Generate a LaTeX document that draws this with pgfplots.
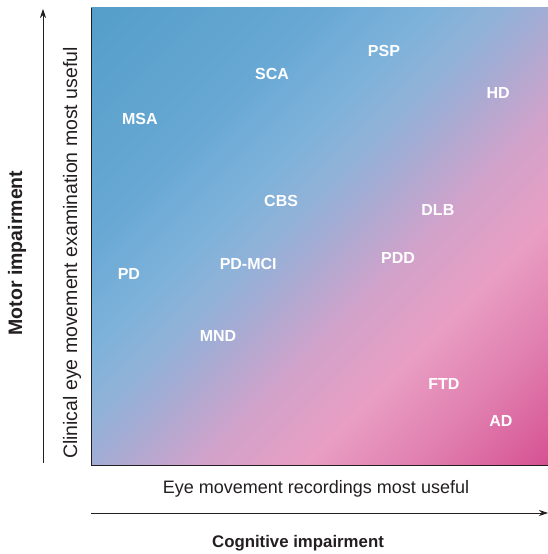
\documentclass[border=0pt]{standalone}
\usepackage{fontspec}
\setmainfont{Liberation Sans}
\usepackage{pgfplots}
\pgfplotsset{compat=1.18}
\usetikzlibrary{arrows.meta}
\definecolor{g0}{RGB}{85,158,202}
\definecolor{g1}{RGB}{104,168,212}
\definecolor{g2}{RGB}{125,178,218}
\definecolor{g3}{RGB}{145,178,216}
\definecolor{g4}{RGB}{162,172,212}
\definecolor{g5}{RGB}{210,162,202}
\definecolor{g6}{RGB}{233,158,195}
\definecolor{g7}{RGB}{224,124,174}
\definecolor{g8}{RGB}{214,82,146}
\definecolor{txt}{RGB}{35,31,32}
\pgfdeclarehorizontalshading{bgshade}{100bp}{
color(0bp)=(g0);
color(14.64bp)=(g0);
color(32.32bp)=(g1);
color(40.8bp)=(g2);
color(46.46bp)=(g3);
color(50bp)=(g4);
color(58.5bp)=(g5);
color(66.5bp)=(g6);
color(76.17bp)=(g7);
color(85.36bp)=(g8);
color(100bp)=(g8)}
\pgfplotstableread{
x y label
64.1 90.6 PSP
39.6 85.6 SCA
89.1 81.4 HD
10.7 75.7 MSA
41.6 57.8 CBS
75.9 55.8 DLB
67.2 45.3 PDD
34.4 44.0 PD-MCI
8.3 41.8 PD
27.8 28.2 MND
77.2 17.7 FTD
89.7 9.6 AD
}\disorders
\begin{document}
\begin{tikzpicture}
\path[use as bounding box] (-91pt,-89pt) rectangle (457pt,465pt);
\begin{axis}[
  at={(0,0)}, anchor=south west,
  scale only axis, width=457pt, height=457pt,
  xmin=0, xmax=100, ymin=0, ymax=100,
  axis lines=left,
  axis line style={-, draw=txt, line width=0.8pt},
  xtick=\empty, ytick=\empty,
  axis background/.style={shading=bgshade, shading angle=-45},
  clip=false,
]
\addplot[only marks, mark=none, nodes near coords, point meta=explicit symbolic,
  every node near coord/.style={anchor=center, text=white, font=\fontsize{16}{18}\selectfont\bfseries}]
  table[x=x, y=y, meta=label] {\disorders};
\end{axis}
\draw[txt, line width=0.8pt, -{Stealth[length=9pt, width=6pt]}] (-48pt,2pt) -- (-48pt,456pt);
\draw[txt, line width=0.8pt, -{Stealth[length=9pt, width=6pt]}] (0pt,-48pt) -- (457pt,-48pt);
\node[txt, font=\fontsize{18}{21}\selectfont] at (225pt,-24pt) {Eye movement recordings most useful};
\node[txt, font=\fontsize{16.8}{20}\selectfont\bfseries] at (207pt,-78pt) {Cognitive impairment};
\node[txt, rotate=90, font=\fontsize{19.5}{22}\selectfont] at (-19pt,212pt) {Clinical eye movement examination most useful};
\node[txt, rotate=90, font=\fontsize{19.5}{22}\selectfont\bfseries] at (-74pt,212pt) {Motor impairment};
\end{tikzpicture}
\end{document}
